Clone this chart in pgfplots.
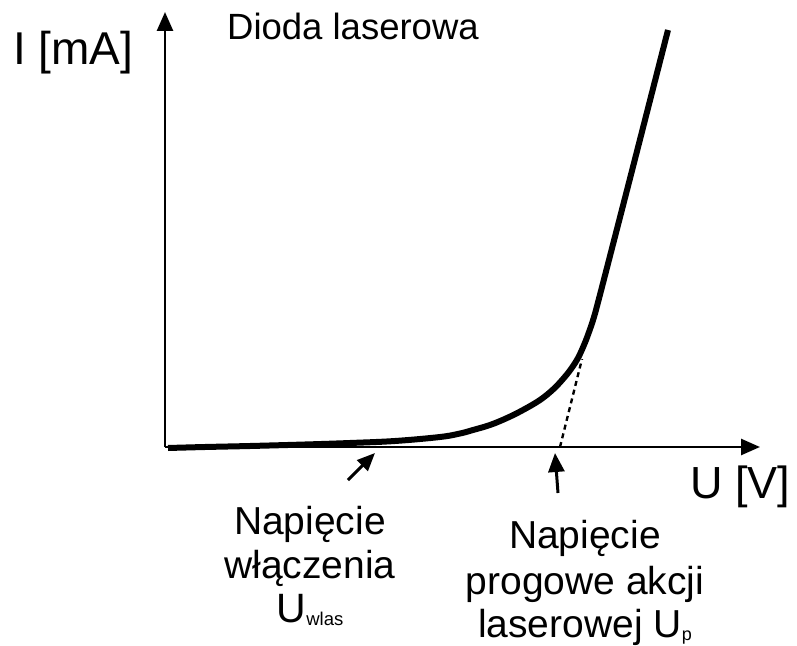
\documentclass[border=0pt]{standalone}
\usepackage{pgfplots}
\pgfplotsset{compat=1.18}
\usepackage{fontspec}
\setmainfont{Liberation Sans}
\usetikzlibrary{arrows.meta}
\begin{document}
\begin{tikzpicture}
\path[use as bounding box] (-165bp,-199bp) rectangle (632bp,447bp);
\begin{axis}[
  at={(0,0)}, anchor=south west,
  scale only axis, width=595bp, height=435bp,
  xmin=0, xmax=595, ymin=0, ymax=435,
  axis lines=left,
  xtick=\empty, ytick=\empty,
  clip=false,
  every outer x axis line/.append style={line width=2.6bp, -{Triangle[length=19bp,width=16bp]}},
  every outer y axis line/.append style={line width=2.6bp, -{Triangle[length=18bp,width=16bp]}},
  axis line style={line width=2.6bp, -{Triangle[length=19bp,width=16bp]}},
]
% characteristic I(U)
\addplot[black, line width=6bp, smooth, tension=0.6, line cap=butt, line join=round] coordinates {
 (3,-1) (40,0) (85,1) (140,2.5) (185,4) (230,6) (275,10) (295,13.5) (308,17)
 (325,22) (342,29) (358,37) (375,47) (388,57.5) (398,68) (406,78) (413,89)
 (419,102) (424,115) (429,130) (434,148.5) (445,191) (470,288) (503,417)
};
% tangent extrapolation
\addplot[black, line width=2.4bp, dash pattern=on 5bp off 4bp] coordinates {(395,0) (417,88)};
% annotation arrows
\addplot[black, line width=3bp, -{Triangle[length=18bp,width=15bp]}] coordinates {(183,-33) (210,-6)};
\addplot[black, line width=3bp, -{Triangle[length=19bp,width=16bp]}] coordinates {(393,-46) (390,-6)};
% texts
\node[anchor=base west, inner sep=0pt, font=\fontsize{46bp}{50bp}\selectfont] at (axis cs:-152,382) {I [mA]};
\node[anchor=base west, inner sep=0pt, font=\fontsize{36.5bp}{40bp}\selectfont] at (axis cs:62,407) {Dioda laserowa};
\node[anchor=base west, inner sep=0pt, font=\fontsize{45bp}{50bp}\selectfont] at (axis cs:525,-51) {U [V]};
\node[anchor=base, inner sep=0pt, font=\fontsize{39bp}{44bp}\selectfont] at (axis cs:145,-87) {Napięcie};
\node[anchor=base, inner sep=0pt, font=\fontsize{39bp}{44bp}\selectfont] at (axis cs:145,-131) {włączenia};
\node[anchor=base, inner sep=0pt, font=\fontsize{41bp}{44bp}\selectfont] at (axis cs:145,-175) {U\raisebox{-3bp}{\fontsize{18.5bp}{20bp}\selectfont wlas}};
\node[anchor=base, inner sep=0pt, font=\fontsize{39bp}{44bp}\selectfont] at (axis cs:420,-101) {Napięcie};
\node[anchor=base, inner sep=0pt, font=\fontsize{39bp}{44bp}\selectfont] at (axis cs:420,-147) {progowe akcji};
\node[anchor=base, inner sep=0pt, font=\fontsize{39bp}{44bp}\selectfont] at (axis cs:420,-190) {laserowej U\raisebox{-3bp}{\fontsize{18bp}{20bp}\selectfont p}};
\end{axis}
\end{tikzpicture}
\end{document}
